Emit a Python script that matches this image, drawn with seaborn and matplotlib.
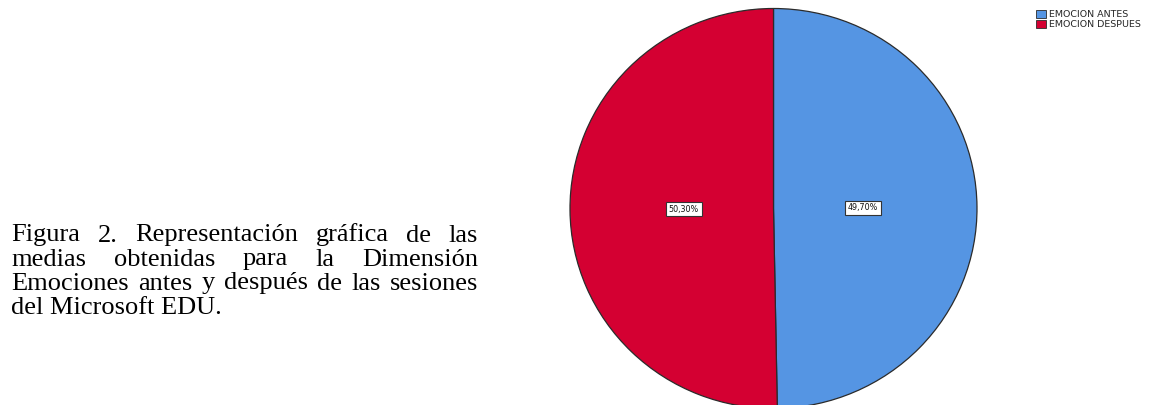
import matplotlib
matplotlib.use("Agg")
import matplotlib.pyplot as plt
from matplotlib.patches import Patch
import seaborn as sns

# Mean emotion scores before and after the sessions (share of total)
categories = ["EMOCION ANTES", "EMOCION DESPUES"]
shares = [49.70, 50.30]
colors = ["#5595E3", "#D40032"]

caption_lines = [
    "Figura 2. Representación gráfica de las",
    "medias obtenidas para la Dimensión",
    "Emociones antes y después de las sesiones",
    "del Microsoft EDU.",
]

sns.set_theme(style="white")
plt.rcParams["font.family"] = ["DejaVu Sans"]

W, H = 1153, 405
fig = plt.figure(figsize=(W / 100, H / 100), dpi=100)
fig.patch.set_facecolor("white")

# Pie chart (slightly wider than tall, bottom runs off the canvas)
cx, cy, rx, ry = 773.5, 208.5, 203.5, 200.0
ax = fig.add_axes([(cx - rx) / W, (H - (cy + ry)) / H, 2 * rx / W, 2 * ry / H])
wedges, _, autotexts = ax.pie(
    shares,
    colors=colors,
    startangle=90,
    counterclock=False,
    autopct=lambda p: f"{p:.2f}%".replace(".", ","),
    pctdistance=0.44,
    wedgeprops=dict(edgecolor="#2b2b2b", linewidth=0.9),
    textprops=dict(fontsize=5.8, color="#111111"),
)
for t in autotexts:
    t.set_bbox(dict(boxstyle="square,pad=0.3", facecolor="white",
                    edgecolor="#333333", linewidth=0.8))
ax.set_xlim(-1, 1)
ax.set_ylim(-1, 1)
ax.set_aspect("auto")
ax.axis("off")

# Legend
handles = [Patch(facecolor=c, edgecolor="#2b2b2b", linewidth=0.6) for c in colors]
fig.legend(handles, categories, loc="upper left",
           bbox_to_anchor=(1036 / W, 1 - 10 / H), frameon=False,
           fontsize=6.8, handlelength=1.05, handleheight=0.85,
           handletextpad=0.3, labelspacing=0.12, borderpad=0,
           borderaxespad=0)

# Justified caption on the left
cap_font = dict(family="Liberation Serif", size=19, color="black")
x_left, x_right = 11, 478
baselines = [241.5, 265.5, 289.5, 313.5]
fig.canvas.draw()
renderer = fig.canvas.get_renderer()


def word_width(word):
    t = fig.text(0, 0, word, **cap_font)
    w = t.get_window_extent(renderer=renderer).width
    t.remove()
    return w


for i, (line, yb) in enumerate(zip(caption_lines, baselines)):
    words = line.split(" ")
    y = 1 - yb / H
    if i == len(caption_lines) - 1 or len(words) == 1:
        fig.text(x_left / W, y, line, va="baseline", ha="left", **cap_font)
        continue
    widths = [word_width(w) for w in words]
    gap = (x_right - x_left - sum(widths)) / (len(words) - 1)
    x = x_left
    for w, wd in zip(words, widths):
        fig.text(x / W, y, w, va="baseline", ha="left", **cap_font)
        x += wd + gap

fig.savefig("out.png", dpi=100, facecolor="white")
